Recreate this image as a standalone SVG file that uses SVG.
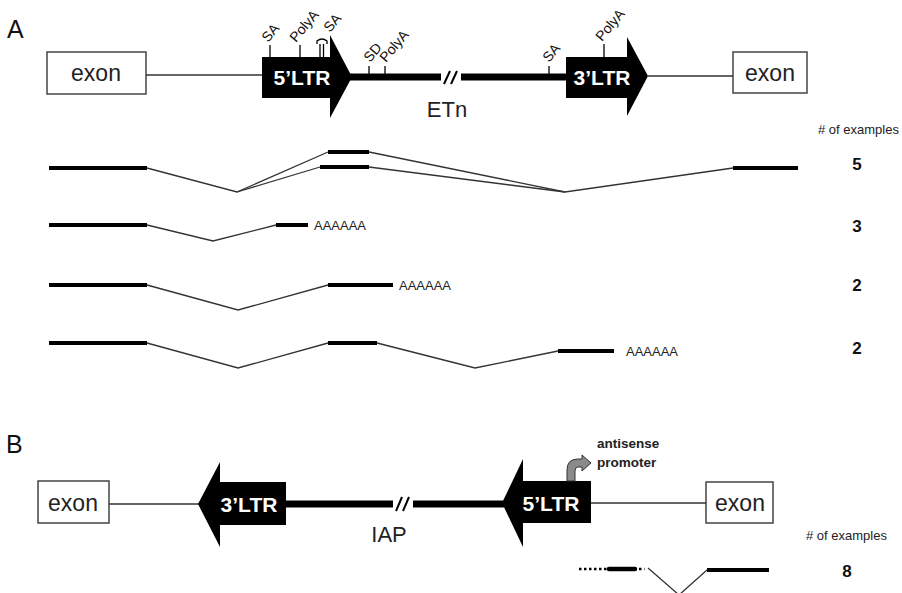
<svg xmlns="http://www.w3.org/2000/svg" width="902" height="593" viewBox="0 0 902 593">
<style>
text{font-family:"Liberation Sans",Arial,sans-serif}
.panel{font-size:25px;fill:#111}
.exonbox{fill:#fff;stroke:#444;stroke-width:1.5}
.exontxt{font-size:23px;fill:#222;text-anchor:middle}
.ltr{fill:#000}
.ltrtxt{font-size:21px;font-weight:bold;fill:#fff;text-anchor:middle}
.thin{stroke:#333;stroke-width:1.3;fill:none}
.back{stroke:#000;stroke-width:7;fill:none}
.ex{stroke:#000;stroke-width:4;fill:none}
.tick{stroke:#000;stroke-width:1.3;fill:none}
.slash{stroke:#000;stroke-width:2;fill:none}
.site{font-size:14px;fill:#111}
.name{font-size:22px;fill:#222;text-anchor:middle}
.polyA{font-size:13px;fill:#222}
.num{font-size:17px;font-weight:bold;fill:#111;text-anchor:middle}
.hdr{font-size:13px;fill:#222}
</style>

<!-- Panel A -->
<text class="panel" x="7" y="38">A</text>

<g id="a-exon-left"><rect class="exonbox" x="47" y="52" width="99" height="42"/><text class="exontxt" x="96" y="81">exon</text></g>
<g id="a-exon-right"><rect class="exonbox" x="733" y="52" width="74" height="41"/><text class="exontxt" x="770" y="81">exon</text></g>

<g id="a-connectors">
<line class="thin" x1="146" y1="75" x2="262" y2="75"/>
<line class="thin" x1="648" y1="76" x2="733" y2="76"/>
<line class="back" x1="350" y1="77" x2="441" y2="77"/>
<line class="back" x1="461" y1="77" x2="568" y2="77"/>
<line class="slash" x1="444" y1="84" x2="450" y2="71"/>
<line class="slash" x1="451" y1="84" x2="457" y2="71"/>
</g>

<g id="a-5ltr">
<path class="ltr" d="M262,57 H330 V35 L352,77 L330,118 V98 H262 Z"/>
<text class="ltrtxt" x="302" y="85">5’LTR</text>
<line class="tick" x1="270" y1="45" x2="270" y2="57"/>
<text class="site" transform="translate(268,43) rotate(-50)">SA</text>
<line class="tick" x1="300" y1="45" x2="300" y2="57"/>
<text class="site" transform="translate(296,43) rotate(-50)">PolyA</text>
<line class="tick" x1="320" y1="44" x2="320" y2="57"/>
<line class="tick" x1="323.5" y1="44" x2="323.5" y2="57"/>
<path class="tick" d="M317,44 V41 Q322,37 327,41 V44"/>
<text class="site" transform="translate(330,33) rotate(-50)">SA</text>
<line class="tick" x1="369" y1="66" x2="369" y2="74"/>
<text class="site" transform="translate(370,63) rotate(-50)">SD</text>
<line class="tick" x1="385" y1="66" x2="385" y2="74"/>
<text class="site" transform="translate(386,63) rotate(-50)">PolyA</text>
</g>

<text class="name" x="447" y="117">ETn</text>

<g id="a-3ltr">
<path class="ltr" d="M566,57 H627 V37 L648,76 L627,116 V98 H566 Z"/>
<text class="ltrtxt" x="602" y="85">3’LTR</text>
<line class="tick" x1="549" y1="66" x2="549" y2="74"/>
<text class="site" transform="translate(549,63) rotate(-50)">SA</text>
<line class="tick" x1="604" y1="44" x2="604" y2="57"/>
<text class="site" transform="translate(602,42) rotate(-50)">PolyA</text>
</g>

<text class="hdr" x="818" y="134"># of examples</text>

<g id="a-row1">
<line class="ex" x1="49" y1="168" x2="147" y2="168"/>
<polyline class="thin" points="147,168 237,192 328,152"/>
<line class="thin" x1="237" y1="192" x2="320" y2="167"/>
<line class="ex" x1="328" y1="152" x2="369" y2="152"/>
<line class="ex" x1="320" y1="167" x2="369" y2="167"/>
<polyline class="thin" points="369,152 565,192 733,168"/>
<line class="thin" x1="369" y1="167" x2="565" y2="192"/>
<line class="ex" x1="733" y1="168" x2="798" y2="168"/>
<text class="num" x="857" y="170">5</text>
</g>

<g id="a-row2">
<line class="ex" x1="49" y1="225" x2="147" y2="225"/>
<polyline class="thin" points="147,225 213,241 276,225"/>
<line class="ex" x1="276" y1="225" x2="308" y2="225"/>
<text class="polyA" x="314" y="230">AAAAAA</text>
<text class="num" x="857" y="232">3</text>
</g>

<g id="a-row3">
<line class="ex" x1="49" y1="285" x2="147" y2="285"/>
<polyline class="thin" points="147,285 238,310 328,285"/>
<line class="ex" x1="328" y1="285" x2="393" y2="285"/>
<text class="polyA" x="399" y="290">AAAAAA</text>
<text class="num" x="857" y="291">2</text>
</g>

<g id="a-row4">
<line class="ex" x1="49" y1="343" x2="147" y2="343"/>
<polyline class="thin" points="147,343 238,368 328,343"/>
<line class="ex" x1="328" y1="343" x2="377" y2="343"/>
<polyline class="thin" points="377,343 475,368 558,351"/>
<line class="ex" x1="558" y1="351" x2="614" y2="351"/>
<text class="polyA" x="626" y="356">AAAAAA</text>
<text class="num" x="857" y="354">2</text>
</g>

<!-- Panel B -->
<text class="panel" x="6" y="453">B</text>

<g id="b-exon-left"><rect class="exonbox" x="38" y="481" width="71" height="42"/><text class="exontxt" x="73" y="511">exon</text></g>
<g id="b-exon-right"><rect class="exonbox" x="706" y="482" width="67" height="41"/><text class="exontxt" x="740" y="511">exon</text></g>

<g id="b-connectors">
<line class="thin" x1="109" y1="504" x2="200" y2="504"/>
<line class="thin" x1="591" y1="503" x2="706" y2="503"/>
<line class="back" x1="284" y1="504" x2="393" y2="504"/>
<line class="back" x1="413" y1="504" x2="504" y2="504"/>
<line class="slash" x1="396" y1="511" x2="402" y2="497"/>
<line class="slash" x1="403" y1="511" x2="409" y2="497"/>
</g>

<g id="b-3ltr">
<path class="ltr" d="M198,504 L220,462 V482 H286 V525 H220 V547 Z"/>
<text class="ltrtxt" x="249" y="512">3’LTR</text>
</g>

<text class="name" x="389" y="542">IAP</text>

<g id="b-5ltr">
<path class="ltr" d="M502,503 L523,459 V481 H591 V523 H523 V547 Z"/>
<text class="ltrtxt" x="551" y="511">5’LTR</text>
</g>

<g id="b-promoter">
<path d="M567,481 V470 Q567,459 578,459 H582 V455 L591,463 L582,471 V467 H578 Q575,467 575,471 V481 Z" fill="#8a8a8a" stroke="#333" stroke-width="1"/>
<text font-size="13.5" font-weight="bold" fill="#222" x="597" y="448">antisense</text>
<text font-size="13.5" font-weight="bold" fill="#222" x="597" y="467">promoter</text>
</g>

<text class="hdr" x="806" y="540"># of examples</text>

<g id="b-row1">
<line x1="579" y1="569" x2="607" y2="569" stroke="#000" stroke-width="2.5" stroke-dasharray="2.5 2.5"/>
<line x1="609" y1="569" x2="635" y2="569" stroke="#000" stroke-width="4.5" stroke-linecap="round"/>
<line x1="639" y1="569" x2="645" y2="569" stroke="#000" stroke-width="2.5" stroke-dasharray="2.5 3"/>
<polyline class="thin" points="648,568 679,595 707,570"/>
<line class="ex" x1="707" y1="570" x2="769" y2="570"/>
<text class="num" x="847" y="577">8</text>
</g>
</svg>
